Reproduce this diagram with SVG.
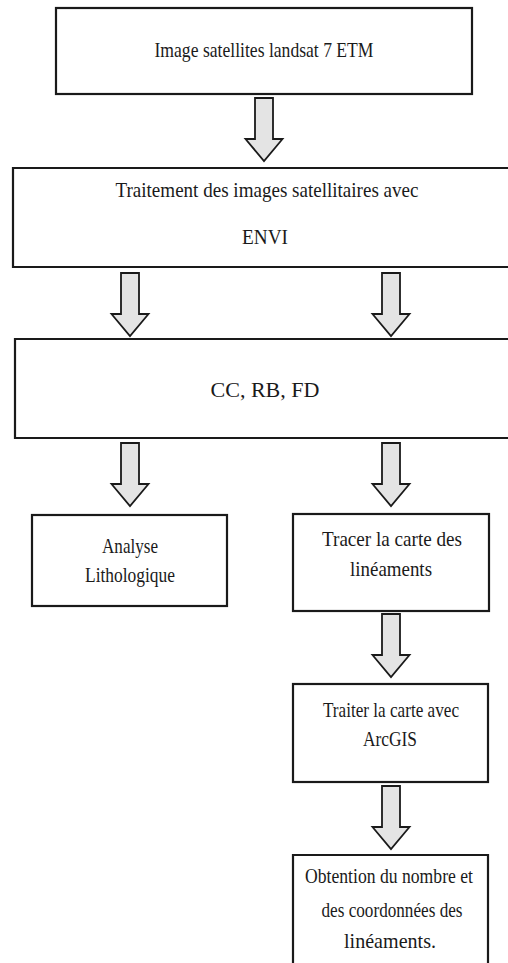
<svg xmlns="http://www.w3.org/2000/svg" width="508" height="963" viewBox="0 0 508 963">
<style>
.box{fill:#fff;stroke:#1a1a1a;stroke-width:2.2}
.arr{fill:#e4e4e4;stroke:#1a1a1a;stroke-width:1.8;stroke-linejoin:miter}
text{font-family:"Liberation Serif","Times New Roman",serif;font-size:22px;fill:#1a1a1a;text-anchor:middle}
</style>
<defs>
<path id="ar" d="M-9,0 H9 V41 H18.5 L0,63 L-18.5,41 H-9 Z"/>
</defs>
<rect width="508" height="963" fill="#fff"/>
<g id="connectors">
<use href="#ar" class="arr" x="264" y="98"/>
<use href="#ar" class="arr" x="130" y="273"/>
<use href="#ar" class="arr" x="391" y="273"/>
<use href="#ar" class="arr" x="130" y="443"/>
<use href="#ar" class="arr" x="391" y="443"/>
<use href="#ar" class="arr" x="391" y="614"/>
<use href="#ar" class="arr" x="391" y="786"/>
</g>
<g id="n1">
<rect class="box" x="56" y="8" width="416" height="86"/>
<text x="264" y="57" textLength="219" lengthAdjust="spacingAndGlyphs">Image satellites landsat 7 ETM</text>
</g>
<g id="n2">
<path class="box" d="M508,168 H13 V267 H508"/>
<text x="267" y="197" textLength="303" lengthAdjust="spacingAndGlyphs">Traitement des images satellitaires avec</text>
<text x="265" y="244" textLength="46" lengthAdjust="spacingAndGlyphs">ENVI</text>
</g>
<g id="n3">
<path class="box" d="M508,339 H15 V438 H508"/>
<text x="265" y="397" textLength="109" lengthAdjust="spacingAndGlyphs">CC, RB, FD</text>
</g>
<g id="n4">
<rect class="box" x="32" y="515" width="195" height="91"/>
<text x="130" y="553" textLength="56" lengthAdjust="spacingAndGlyphs">Analyse</text>
<text x="130" y="582" textLength="90" lengthAdjust="spacingAndGlyphs">Lithologique</text>
</g>
<g id="n5">
<rect class="box" x="293" y="514" width="196" height="97"/>
<text x="392" y="546" textLength="140" lengthAdjust="spacingAndGlyphs">Tracer la carte des</text>
<text x="391" y="576" textLength="82" lengthAdjust="spacingAndGlyphs">linéaments</text>
</g>
<g id="n6">
<rect class="box" x="293" y="684" width="195" height="98"/>
<text x="391" y="717" textLength="136" lengthAdjust="spacingAndGlyphs">Traiter la carte avec</text>
<text x="390" y="746" textLength="54" lengthAdjust="spacingAndGlyphs">ArcGIS</text>
</g>
<g id="n7">
<path class="box" d="M293,963 V855 H488 V963"/>
<text x="389" y="883" textLength="168" lengthAdjust="spacingAndGlyphs">Obtention du nombre et</text>
<text x="392" y="917" textLength="141" lengthAdjust="spacingAndGlyphs">des coordonnées des</text>
<text x="390" y="948" textLength="92" lengthAdjust="spacingAndGlyphs">linéaments.</text>
</g>
</svg>
